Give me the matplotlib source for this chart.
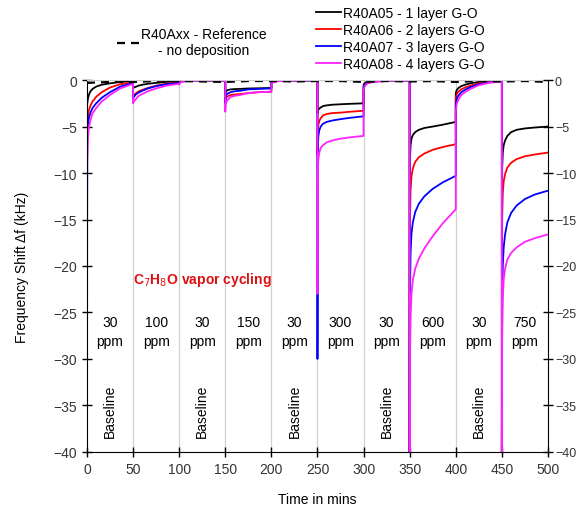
import numpy as np
import matplotlib.pyplot as plt

plt.rcParams['font.family'] = ['Liberation Sans', 'DejaVu Sans']

# time offsets (min) inside each 50 min step
offs = [0, 0.3, 1, 2, 3.5, 6, 10, 16, 25, 36, 50]
seg_start = [0, 50, 100, 150, 200, 250, 300, 350, 400, 450]

# frequency shift (kHz) read per step
a05 = [[-3, -2.5, -2.0, -1.6, -1.25, -0.95, -0.7, -0.5, -0.35, -0.2, -0.1],
       [-0.9, -0.85, -0.8, -0.75, -0.7, -0.6, -0.5, -0.4, -0.3, -0.2, -0.15],
       [-0.3, -0.25, -0.2, -0.15, -0.12, -0.1, -0.08, -0.06, -0.05, -0.05, -0.05],
       [-1.5, -1.3, -1.2, -1.1, -1.05, -1.0, -0.97, -0.95, -0.9, -0.88, -0.85],
       [-0.3, -0.25, -0.2, -0.15, -0.12, -0.1, -0.08, -0.06, -0.05, -0.05, -0.05],
       [-3.6, -3.4, -3.2, -3.05, -2.95, -2.8, -2.72, -2.65, -2.6, -2.55, -2.5],
       [-0.6, -0.45, -0.35, -0.28, -0.2, -0.15, -0.1, -0.08, -0.05, -0.05, -0.05],
       [-40, -8.5, -7.0, -6.3, -5.9, -5.6, -5.35, -5.15, -5.0, -4.8, -4.5],
       [-1.5, -1.3, -1.1, -0.95, -0.8, -0.65, -0.5, -0.35, -0.2, -0.1, -0.05],
       [-40, -9.5, -7.8, -7.0, -6.5, -6.0, -5.6, -5.35, -5.2, -5.1, -5.0]]
a06 = [[-10, -5.5, -4.0, -3.3, -2.8, -2.3, -1.8, -1.3, -0.8, -0.45, -0.2],
       [-1.8, -1.7, -1.6, -1.5, -1.4, -1.2, -1.05, -0.85, -0.6, -0.4, -0.25],
       [-0.4, -0.32, -0.25, -0.2, -0.15, -0.12, -0.1, -0.08, -0.06, -0.05, -0.05],
       [-2.2, -2.0, -1.9, -1.8, -1.7, -1.6, -1.55, -1.5, -1.4, -1.3, -1.25],
       [-0.4, -0.32, -0.25, -0.2, -0.15, -0.12, -0.1, -0.08, -0.06, -0.05, -0.05],
       [-8, -5.5, -4.8, -4.4, -4.1, -3.8, -3.65, -3.55, -3.5, -3.4, -3.3],
       [-1.0, -0.8, -0.6, -0.45, -0.35, -0.25, -0.18, -0.12, -0.1, -0.05, -0.05],
       [-40, -15, -11.8, -10.3, -9.5, -8.8, -8.3, -7.9, -7.5, -7.2, -6.9],
       [-2.0, -1.8, -1.55, -1.35, -1.2, -1.0, -0.8, -0.6, -0.35, -0.2, -0.1],
       [-40, -15, -12.2, -10.9, -10.1, -9.4, -8.9, -8.5, -8.2, -8.0, -7.8]]
a07 = [[-20, -6.5, -4.8, -4.1, -3.6, -3.0, -2.5, -1.9, -1.3, -0.7, -0.3],
       [-2.0, -1.9, -1.8, -1.65, -1.5, -1.35, -1.15, -0.9, -0.65, -0.45, -0.3],
       [-0.4, -0.32, -0.25, -0.2, -0.15, -0.12, -0.1, -0.08, -0.06, -0.05, -0.05],
       [-2.5, -1.9, -1.6, -1.5, -1.4, -1.3, -1.2, -1.15, -1.0, -0.95, -0.9],
       [-0.4, -0.32, -0.25, -0.2, -0.15, -0.12, -0.1, -0.08, -0.06, -0.05, -0.05],
       [-30, -7.5, -6.0, -5.4, -5.0, -4.7, -4.5, -4.35, -4.2, -4.05, -3.9],
       [-1.0, -0.8, -0.6, -0.45, -0.35, -0.25, -0.18, -0.12, -0.1, -0.05, -0.05],
       [-40, -23, -18.5, -16.5, -15.3, -14.2, -13.3, -12.5, -11.7, -11.0, -10.3],
       [-2.9, -2.5, -2.1, -1.8, -1.6, -1.3, -1.05, -0.75, -0.45, -0.25, -0.1],
       [-40, -25, -20, -18, -16.6, -15.3, -14.3, -13.5, -12.8, -12.3, -11.9]]
a08 = [[-35, -9, -6.3, -5.2, -4.4, -3.6, -3.0, -2.3, -1.6, -0.9, -0.4],
       [-2.5, -2.4, -2.3, -2.15, -2.0, -1.7, -1.5, -1.2, -0.9, -0.6, -0.4],
       [-0.5, -0.4, -0.3, -0.22, -0.17, -0.13, -0.1, -0.08, -0.06, -0.05, -0.05],
       [-3.4, -2.7, -2.4, -2.2, -2.05, -1.8, -1.7, -1.6, -1.4, -1.3, -1.25],
       [-0.5, -0.4, -0.3, -0.22, -0.17, -0.13, -0.1, -0.08, -0.06, -0.05, -0.05],
       [-23, -10, -8.5, -7.8, -7.3, -7.0, -6.7, -6.5, -6.3, -6.15, -6.0],
       [-1.2, -0.95, -0.75, -0.55, -0.42, -0.3, -0.22, -0.15, -0.1, -0.06, -0.05],
       [-40, -30, -25.5, -23, -21.5, -20.3, -19.2, -18.1, -16.8, -15.4, -13.9],
       [-3.6, -3.1, -2.6, -2.3, -2.0, -1.6, -1.3, -0.95, -0.55, -0.3, -0.15],
       [-40, -28, -23.5, -21.5, -20.3, -19.3, -18.6, -18.0, -17.4, -17.0, -16.6]]

ref_t = [0, 25, 50, 75, 100, 125, 150, 175, 200, 225, 250, 275, 300, 325, 350, 375, 400, 425, 450, 475, 500]
ref_v = [-0.3, -0.2, -0.2, -0.1, -0.1, -0.15, -0.2, -0.1, -0.1, -0.15, -0.1, -0.1, -0.2, -0.1, -0.15, -0.1, -0.2, -0.1, -0.15, -0.1, -0.2]

labels_ppm = ['30', '100', '30', '150', '30', '300', '30', '600', '30', '750']

series = [(a05, 'black', 'R40A05 - 1 layer G-O'),
          (a06, 'red', 'R40A06 - 2 layers G-O'),
          (a07, 'blue', 'R40A07 - 3 layers G-O'),
          (a08, '#ff22ff', 'R40A08 - 4 layers G-O')]

fig = plt.figure(figsize=(5.78, 5.10), dpi=100)
ax = fig.add_axes([0.1505, 0.112, 0.7975, 0.729])

for x in seg_start[1:]:
    ax.axvline(x, color='#d0d0d0', lw=0.9, zorder=0)

handles = []
for data, col, lab in series:
    t = np.concatenate([s + np.array(offs) for s in seg_start])
    v = np.concatenate(data)
    h, = ax.plot(t, v, color=col, lw=1.3, label=lab)
    handles.append(h)

href, = ax.plot(ref_t, ref_v, color='black', lw=1.6, ls=(0, (3.6, 2.7)), label='R40Axx - Reference\n- no deposition')

ax.set_xlim(0, 500)
ax.set_ylim(-40, 0)
ax.set_xticks(np.arange(0, 501, 50))
ax.set_yticks(np.arange(-40, 1, 5))
ax.tick_params(direction='inout', length=7, labelsize=10, width=1, labelcolor='#333333')
ax.spines['top'].set_color('#cccccc')
ax.spines['right'].set_visible(False)

ax2 = ax.twinx()
ax2.set_ylim(-40, 0)
ax2.set_yticks(np.arange(-40, 1, 5))
ax2.tick_params(direction='inout', length=7, labelsize=9, width=1, labelcolor='#333333', pad=1.5)
for sp in ['top', 'left', 'bottom']:
    ax2.spines[sp].set_visible(False)

for i, s in enumerate(seg_start):
    ax.text(s + 25, -27.0, labels_ppm[i] + '\nppm', ha='center', va='center', fontsize=10, linespacing=1.45)
    if i % 2 == 0:
        ax.text(s + 25, -35.5, 'Baseline', rotation=90, ha='center', va='center', fontsize=10)

ax.text(50, -21.4, r'C$_7$H$_8$O vapor cycling', color='#dd1111', fontsize=10, fontweight='bold', va='center')

ax.set_xlabel('Time in mins', fontsize=10, labelpad=12)
ax.set_ylabel('Frequency Shift \u0394f (kHz)', fontsize=10, labelpad=18)

fig.legend(handles=handles, loc='center left', bbox_to_anchor=(0.535, 0.923), frameon=False,
           fontsize=10, handlelength=1.8, handletextpad=0.15, labelspacing=0.22, borderpad=0)
leg2 = fig.legend(handles=[href], loc='center left', bbox_to_anchor=(0.19, 0.915), frameon=False,
                  fontsize=10, handlelength=1.6, handletextpad=0.15, borderpad=0)
for txt in leg2.get_texts():
    txt.set_multialignment('center')

fig.savefig('out.png', dpi=100)
